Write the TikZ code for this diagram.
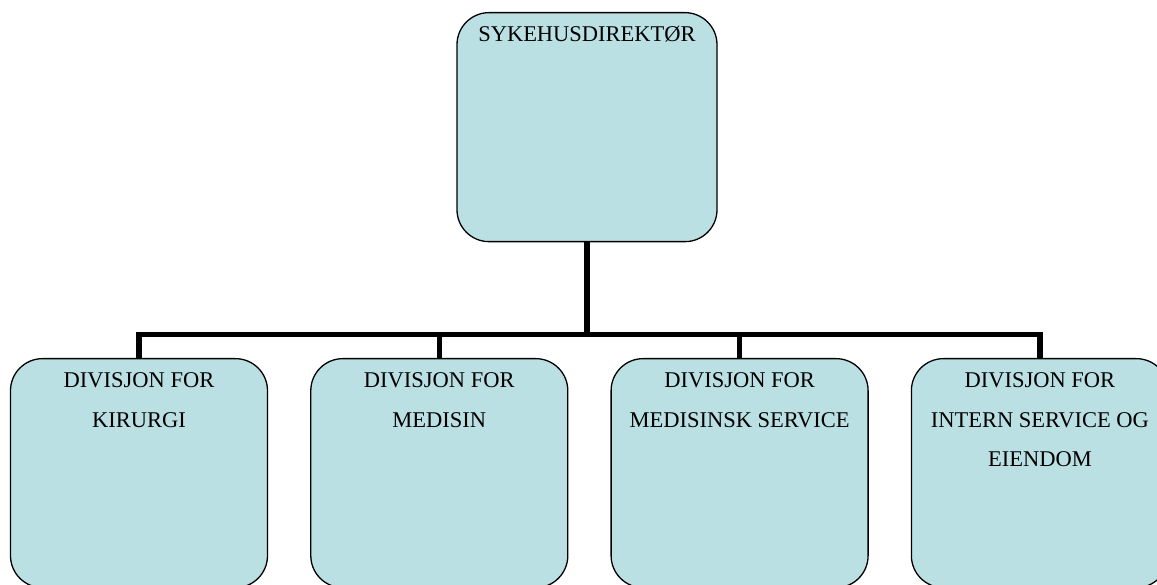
\documentclass[tikz,border=0pt]{standalone}
\usepackage{fontspec}
\setmainfont{Liberation Serif}
\usetikzlibrary{positioning}
\definecolor{boxblue}{RGB}{187,224,227}
\newcommand{\divtext}[1]{\begin{tabular}[t]{@{}c@{}}#1\end{tabular}}

\begin{document}
\begin{tikzpicture}[
        x=1pt, y=-1pt,
        font=\fontsize{22.5}{39.5}\selectfont, node distance=42pt,
        box/.style={draw, line width=1.3pt, fill=boxblue, rounded corners=32pt,
                    inner xsep=4pt, inner ysep=0pt, text height=29pt, text depth=200pt},
        conn/.style={line width=5.5pt}
    ]
        \useasboundingbox (0,0) rectangle (1157,585);

        \node[box, minimum width=260pt, anchor=north] (dir) at (587,12) {\divtext{SYKEHUSDIREKT\O R}};

        \node[box, minimum width=257pt, anchor=north] (div1) at (139,358) {\divtext{DIVISJON FOR\\KIRURGI}};
        \node[box, minimum width=257pt, right=of div1] (div2) {\divtext{DIVISJON FOR\\MEDISIN}};
        \node[box, minimum width=257pt, right=of div2] (div3) {\divtext{DIVISJON FOR\\MEDISINSK SERVICE}};
        \node[box, minimum width=257pt, right=of div3] (div4) {\divtext{DIVISJON FOR\\INTERN SERVICE OG\\EIENDOM}};

        % bus line
        \coordinate (bus) at (587,334.5);
        \draw[conn] (dir.south) -- (bus);
        \draw[conn] (div1.north) |- (bus) -| (div4.north);
        \draw[conn] (div2.north) -- (div2.north |- bus);
        \draw[conn] (div3.north) -- (div3.north |- bus);
    \end{tikzpicture}
\end{document}
